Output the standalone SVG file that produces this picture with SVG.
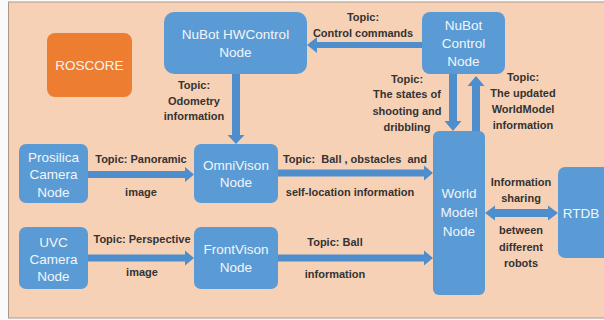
<svg xmlns="http://www.w3.org/2000/svg" width="604" height="320" viewBox="0 0 604 320">
<style>
.bg{fill:#F7D1B5;stroke:#A8978A;stroke-width:1}
.node{fill:#5B9BD5}
.ros{fill:#ED7D31}
.nt{font-family:"Liberation Sans",Arial,sans-serif;font-size:13.5px;fill:#F2F5F9;text-anchor:middle}
.lb{font-family:"Liberation Sans",Arial,sans-serif;font-size:11px;font-weight:bold;fill:#333333;text-anchor:middle}
.arr{fill:#4F8ECC}
</style>
<rect x="0" y="0" width="604" height="320" fill="#FAFAFA"/>
<rect class="bg" x="8.5" y="2" width="610" height="316"/>

<g id="connectors">
<polygon class="arr" points="422,42 317,42 317,37 307,45 317,53 317,48 422,48"/>
<polygon class="arr" points="232,73 232,135 227.5,135 236,144 244.5,135 240,135 240,73"/>
<polygon class="arr" points="449,74 449,121 444.5,121 453,131 461.5,121 457,121 457,74"/>
<polygon class="arr" points="472,131 472,86 467.5,86 476,76 484.5,86 480,86 480,131"/>
<polygon class="arr" points="88,171 185,171 185,167 194,174.5 185,182 185,178 88,178"/>
<polygon class="arr" points="88,254.5 185,254.5 185,250.5 194,258 185,265.5 185,261.5 88,261.5"/>
<polygon class="arr" points="278,169.5 424,169.5 424,165.5 433,173 424,180.5 424,176.5 278,176.5"/>
<polygon class="arr" points="278,254.5 424,254.5 424,250.5 433,258 424,265.5 424,261.5 278,261.5"/>
<polygon class="arr" points="485,213 495,205.5 495,209 548,209 548,205.5 558,213 548,220.5 548,217 495,217 495,220.5"/>
</g>

<g id="roscore">
<rect class="ros" x="47" y="33" width="85" height="64" rx="8"/>
<text class="nt" x="89.5" y="69.5" font-size="12.5">ROSCORE</text>
</g>
<g id="hwcontrol">
<rect class="node" x="164" y="12" width="143" height="62" rx="10"/>
<text class="nt" x="235.5" y="39">NuBot HWControl</text>
<text class="nt" x="235.5" y="57">Node</text>
</g>
<g id="control">
<rect class="node" x="422" y="12" width="83" height="62" rx="8"/>
<text class="nt" x="463.5" y="30">NuBot</text>
<text class="nt" x="463.5" y="48">Control</text>
<text class="nt" x="463.5" y="66">Node</text>
</g>
<g id="prosilica">
<rect class="node" x="19" y="144" width="69" height="59" rx="7"/>
<text class="nt" x="53.5" y="162">Prosilica</text>
<text class="nt" x="53.5" y="179">Camera</text>
<text class="nt" x="53.5" y="197">Node</text>
</g>
<g id="omnivison">
<rect class="node" x="194" y="144" width="84" height="59" rx="7"/>
<text class="nt" x="236" y="170">OmniVison</text>
<text class="nt" x="236" y="187">Node</text>
</g>
<g id="uvc">
<rect class="node" x="19" y="227" width="69" height="62" rx="7"/>
<text class="nt" x="53.5" y="247">UVC</text>
<text class="nt" x="53.5" y="264">Camera</text>
<text class="nt" x="53.5" y="281">Node</text>
</g>
<g id="frontvison">
<rect class="node" x="194" y="227" width="84" height="62" rx="7"/>
<text class="nt" x="236" y="254">FrontVison</text>
<text class="nt" x="236" y="272">Node</text>
</g>
<g id="worldmodel">
<rect class="node" x="433" y="131" width="52" height="164" rx="6"/>
<text class="nt" x="459" y="198">World</text>
<text class="nt" x="459" y="217">Model</text>
<text class="nt" x="459" y="236">Node</text>
</g>
<g id="rtdb">
<rect class="node" x="558" y="167" width="60" height="91" rx="7"/>
<text class="nt" x="581" y="218">RTDB</text>
</g>

<g id="labels">
<text class="lb" x="363" y="21">Topic:</text>
<text class="lb" x="363" y="37">Control commands</text>
<text class="lb" x="194" y="89">Topic:</text>
<text class="lb" x="194" y="105">Odometry</text>
<text class="lb" x="194" y="120">information</text>
<text class="lb" x="407" y="83">Topic:</text>
<text class="lb" x="407" y="98">The states of</text>
<text class="lb" x="407" y="115">shooting and</text>
<text class="lb" x="407" y="131">dribbling</text>
<text class="lb" x="523" y="81">Topic:</text>
<text class="lb" x="523" y="97">The updated</text>
<text class="lb" x="523" y="113">WorldModel</text>
<text class="lb" x="523" y="129">information</text>
<text class="lb" x="141" y="163">Topic: Panoramic</text>
<text class="lb" x="141" y="196">image</text>
<text class="lb" x="142" y="243">Topic: Perspective</text>
<text class="lb" x="142" y="276">image</text>
<text class="lb" x="355" y="163" xml:space="preserve">Topic:  Ball , obstacles  and</text>
<text class="lb" x="350" y="196" font-size="11.8">self-location information</text>
<text class="lb" x="335" y="246">Topic: Ball</text>
<text class="lb" x="335" y="278">information</text>
<text class="lb" x="521" y="186">Information</text>
<text class="lb" x="521" y="202">sharing</text>
<text class="lb" x="521" y="234">between</text>
<text class="lb" x="521" y="251">different</text>
<text class="lb" x="521" y="267">robots</text>
</g>
</svg>
